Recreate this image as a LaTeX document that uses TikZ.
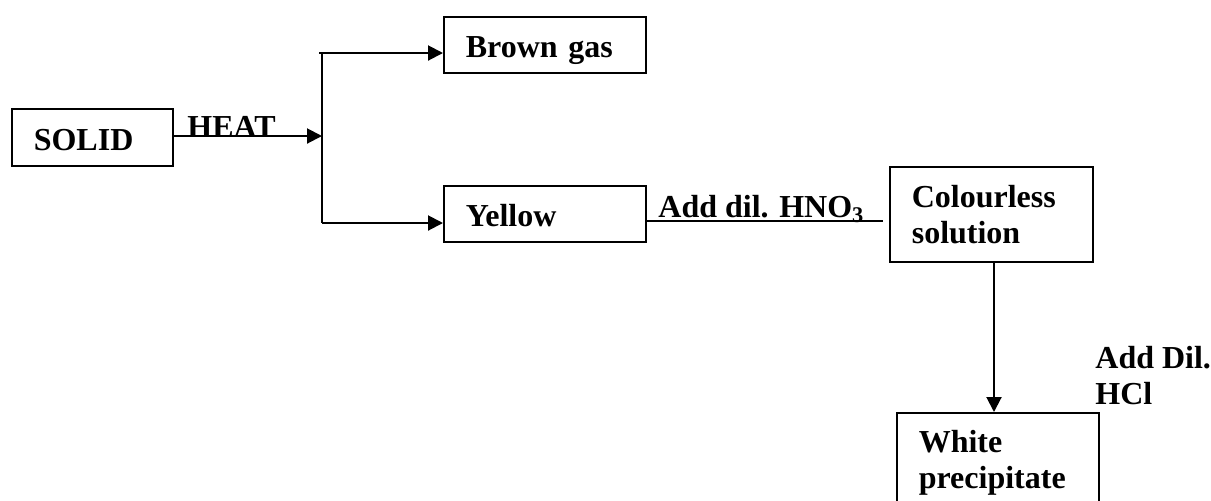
\documentclass[tikz,border=0pt]{standalone}
\usepackage{fontspec}
\setmainfont{Liberation Serif}
\usetikzlibrary{arrows.meta}
\tikzset{
  fs/.style={font=\fontsize{16}{18}\selectfont\bfseries},
  box/.style={fs, draw, line width=0.8pt, anchor=north west, inner xsep=11pt, inner ysep=0pt, align=left},
  onebox/.style={box, text height=12.5pt, text depth=0pt},
  lbl/.style={fs, inner sep=0pt, align=left},
  conn/.style={line width=1pt},
  arr/.style={conn, -{Triangle[length=7.5pt,width=7.5pt]}}
}
\begin{document}
\begin{tikzpicture}[x=0.5pt,y=-0.5pt]
\clip (0,0) rectangle (1211,500);
\useasboundingbox (0,0) rectangle (1211,500);
\node[onebox, minimum width=80.5pt, text width=58.5pt, minimum height=28.5pt, text height=13.5pt] (solid) at (11,108) {SOLID};
\node[onebox, minimum width=101pt, text width=79pt, minimum height=28pt] (brown) at (443,16) {Brown gas};
\node[onebox, minimum width=101pt, text width=79pt, minimum height=28pt] (yellow) at (443,185) {Yellow};
\node[box, minimum width=101.5pt, text width=79.5pt, minimum height=47.5pt] (colour) at (889,166) {Colourless\\solution};
\node[box, minimum width=101pt, text width=79pt, minimum height=50pt] (white) at (896,412) {White\\precipitate};
\coordinate (j) at (322,136);
\coordinate (jt) at (322,53);
\coordinate (jb) at (322,223);
\coordinate (h) at (883,221);
\coordinate (v) at (994,300);
\draw[arr] (solid.east |- j) -- (j);
\draw[conn] (jt) -- (jb);
\draw[arr] ([xshift=-1.5pt]jt) -- (brown.west |- jt);
\draw[arr] (jb) -- (yellow.west |- jb);
\draw[conn] (yellow.east |- h) -- (h);
\draw[arr] (colour.south -| v) -- (white.north -| v);
\node[lbl, anchor=base west] (heat) at (187,137) {HEAT};
\node[lbl, anchor=base west] (hno) at (658,217) {Add dil. HNO\textsubscript{3}};
\node[lbl, anchor=north west] (hcl) at (1095,346) {Add Dil.\\HCl};
\end{tikzpicture}
\end{document}
